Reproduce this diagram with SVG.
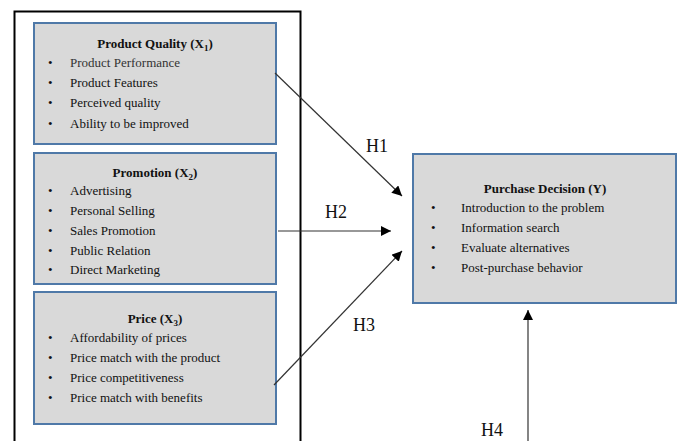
<svg xmlns="http://www.w3.org/2000/svg" width="678" height="441" viewBox="0 0 678 441">
<style>
.box{fill:#d9d9d9;stroke:#4f79a8;stroke-width:2}
.t{font-family:"Liberation Serif","Times New Roman",serif;font-size:13px;fill:#111}
.b{font-weight:bold;text-anchor:middle}
.h{font-family:"Liberation Serif","Times New Roman",serif;font-size:18px;fill:#111}
.c{stroke:#333;stroke-width:1.2;fill:none;marker-end:url(#ah)}
</style>
<defs>
<marker id="ah" viewBox="0 0 10 10" refX="10" refY="5" markerWidth="10" markerHeight="10" markerUnits="userSpaceOnUse" orient="auto">
<path d="M0,0 L10,5 L0,10 z" fill="#000"/>
</marker>
</defs>
<rect width="678" height="441" fill="#fff"/>
<path d="M14.5,445 V11.5 H300.5 V445" fill="none" stroke="#000" stroke-width="2"/>
<g id="x1">
<rect class="box" x="34" y="23" width="242" height="121"/>
<text class="t b" x="155" y="48">Product Quality (X<tspan font-size="9" dy="3">1</tspan><tspan dy="-3">)</tspan></text>
<g class="t">
<text x="48" y="67">•</text><text x="70" y="67" fill="#333">Product Performance</text>
<text x="48" y="87">•</text><text x="70" y="87">Product Features</text>
<text x="48" y="107">•</text><text x="70" y="107">Perceived quality</text>
<text x="48" y="128">•</text><text x="70" y="128">Ability to be improved</text>
</g>
</g>
<g id="x2">
<rect class="box" x="34" y="153" width="242" height="131"/>
<text class="t b" x="155" y="177">Promotion (X<tspan font-size="9" dy="3">2</tspan><tspan dy="-3">)</tspan></text>
<g class="t">
<text x="48" y="195">•</text><text x="70" y="195">Advertising</text>
<text x="48" y="215">•</text><text x="70" y="215">Personal Selling</text>
<text x="48" y="235">•</text><text x="70" y="235">Sales Promotion</text>
<text x="48" y="255">•</text><text x="70" y="255">Public Relation</text>
<text x="48" y="274">•</text><text x="70" y="274">Direct Marketing</text>
</g>
</g>
<g id="x3">
<rect class="box" x="34" y="292" width="242" height="132"/>
<text class="t b" x="155" y="323">Price (X<tspan font-size="9" dy="3">3</tspan><tspan dy="-3">)</tspan></text>
<g class="t">
<text x="48" y="342">•</text><text x="70" y="342">Affordability of prices</text>
<text x="48" y="362">•</text><text x="70" y="362">Price match with the product</text>
<text x="48" y="382">•</text><text x="70" y="382">Price competitiveness</text>
<text x="48" y="402">•</text><text x="70" y="402">Price match with benefits</text>
</g>
</g>
<g id="y">
<rect class="box" x="413" y="154" width="263" height="149"/>
<text class="t b" x="545" y="193">Purchase Decision (Y)</text>
<g class="t">
<text x="431" y="212">•</text><text x="461" y="212">Introduction to the problem</text>
<text x="431" y="232">•</text><text x="461" y="232">Information search</text>
<text x="431" y="252">•</text><text x="461" y="252">Evaluate alternatives</text>
<text x="431" y="272">•</text><text x="461" y="272">Post-purchase behavior</text>
</g>
</g>
<g id="connectors">
<line class="c" x1="275" y1="73" x2="402" y2="196"/>
<line class="c" x1="278" y1="231" x2="391" y2="231"/>
<line class="c" x1="274" y1="385" x2="402" y2="251"/>
<line class="c" x1="528" y1="445" x2="528" y2="310"/>
<text class="h" x="366" y="152">H1</text>
<text class="h" x="325" y="218">H2</text>
<text class="h" x="353" y="331">H3</text>
<text class="h" x="481" y="436">H4</text>
</g>
</svg>
